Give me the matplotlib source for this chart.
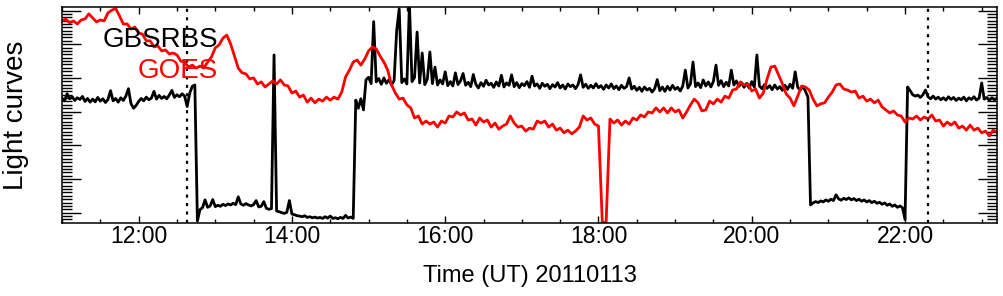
# Light curves of GBSRBS (2-min cadence) and GOES (3-min cadence), 2011-01-13
import numpy as np
import pandas as pd
import matplotlib
matplotlib.use('Agg')
import matplotlib.pyplot as plt
import matplotlib.dates as mdates
from matplotlib.ticker import MultipleLocator

plt.rcParams['font.family'] = ['Liberation Sans', 'DejaVu Sans']

# GBSRBS counts (arbitrary units), one value every 2 minutes from 11:00
gbsrbs = [
    34.0, 33.2, 35.3, 33.8, 34.4, 33.3, 34.1, 33.6, 34.5, 33.0,
    33.9, 32.8, 33.7, 32.9, 34.2, 33.1, 33.8, 32.7, 33.6, 36.2,
    33.2, 33.9, 32.8, 34.1, 33.3, 34.6, 36.8, 32.4, 31.0, 31.8,
    33.0, 33.9, 33.2, 34.3, 33.5, 34.0, 36.0, 33.7, 34.8, 33.9,
    34.5, 33.8, 34.9, 36.3, 34.2, 35.0, 34.4, 35.3, 34.6, 31.5,
    35.5, 37.5, 37.9, -2.5, 0.9, 1.5, 3.8, 1.6, 2.0, 3.9,
    1.8, 2.2, 1.9, 2.5, 2.1, 2.6, 2.3, 2.8, 2.4, 4.7,
    2.6, 2.2, 2.7, 2.3, 2.0, 2.4, 3.6, 1.7, 1.9, 3.3,
    1.3, 1.0, 1.2, 46.8, 0.5, 0.3, 0.0, -0.2, 0.1, 3.6,
    -0.4, -0.6, -0.9, -1.0, -1.2, -0.9, -1.4, -1.2, -1.5, -1.3,
    -1.6, -1.4, -1.7, -1.2, -1.6, -1.0, -1.7, -1.5, -1.8, -1.4,
    -1.7, -0.8, -1.6, -1.3, -1.7, 33.4, 31.0, 33.8, 30.5, 39.4,
    40.2, 38.3, 56.7, 38.8, 39.8, 38.1, 40.0, 38.4, 39.5, 37.9,
    39.2, 54.0, 60.5, 38.6, 39.7, 38.2, 62.0, 38.9, 40.1, 53.6,
    38.5, 47.4, 38.0, 39.6, 47.7, 38.3, 43.2, 37.9, 39.4, 38.2,
    41.8, 37.7, 38.9, 37.6, 41.5, 38.0, 39.1, 41.3, 37.8, 38.7,
    37.4, 41.0, 38.1, 37.0, 38.6, 37.5, 39.3, 37.9, 38.4, 37.2,
    38.8, 37.6, 40.8, 37.3, 38.5, 37.8, 40.9, 37.4, 38.6, 37.1,
    38.3, 37.7, 38.9, 37.2, 40.5, 37.6, 38.2, 36.9, 38.4, 37.5,
    38.1, 36.8, 38.0, 37.3, 38.6, 37.0, 37.9, 36.7, 38.2, 37.4,
    37.9, 36.8, 38.0, 40.9, 37.2, 38.1, 36.9, 37.8, 37.0, 38.3,
    37.1, 37.7, 36.6, 37.9, 37.0, 38.2, 36.8, 37.6, 36.5, 37.8,
    36.9, 37.4, 40.0, 36.7, 37.5, 36.3, 37.2, 36.0, 37.3, 36.4,
    36.9, 35.8, 36.8, 39.5, 36.2, 37.3, 36.0, 37.5, 36.4, 37.8,
    36.6, 37.2, 36.1, 37.6, 42.3, 37.0, 38.2, 44.7, 37.4, 38.5,
    37.1, 39.4, 37.6, 38.8, 37.3, 39.0, 43.8, 37.8, 39.2, 37.4,
    38.7, 37.6, 42.3, 37.9, 39.1, 37.5, 38.6, 37.2, 38.4, 37.0,
    38.9, 37.3, 46.8, 37.6, 36.8, 38.0, 36.9, 37.7, 36.5, 37.9,
    36.7, 37.4, 36.3, 37.8, 36.6, 38.1, 36.9, 41.8, 37.2, 36.4,
    37.5, 36.1, 34.3, 2.3, 2.9, 3.3, 3.0, 3.5, 3.2, 3.8,
    3.4, 4.0, 3.6, 5.3, 4.1, 3.7, 4.3, 3.9, 4.4, 3.8,
    4.2, 3.6, 4.0, 3.4, 3.8, 3.2, 3.6, 3.0, 3.4, 2.8,
    3.1, 2.5, 2.9, 2.2, 2.6, 1.9, 2.3, 1.6, 2.0, 1.5,
    -2.0, 37.3, 36.2, 35.0, 34.6, 34.9, 34.2, 35.0, 36.4, 34.4,
    33.8, 34.6, 33.7, 34.3, 33.5, 34.1, 33.4, 34.4, 33.6, 34.2,
    33.3, 34.0, 33.5, 34.3, 33.2, 34.1, 33.6, 34.4, 33.4, 34.0,
    38.5, 33.7, 34.2, 33.3, 34.1, 33.5, 34.0,
]

# GOES flux (arbitrary units), one value every 3 minutes from 11:00
goes = [
    56.9, 57.5, 56.3, 56.9, 56.0, 57.2, 57.5, 59.0, 57.8, 56.6,
    57.2, 56.9, 59.3, 60.1, 60.6, 58.4, 56.0, 56.0, 54.5, 55.1,
    53.3, 53.0, 51.0, 51.0, 49.2, 49.5, 48.0, 48.3, 47.1, 47.4,
    46.8, 45.0, 44.7, 43.2, 43.8, 42.9, 43.5, 42.9, 44.7, 46.2,
    48.9, 49.8, 51.8, 52.7, 50.1, 46.5, 42.9, 41.5, 41.2, 39.7,
    40.0, 38.2, 38.8, 37.3, 38.2, 39.1, 38.2, 39.4, 37.9, 37.6,
    35.5, 36.1, 34.3, 34.9, 32.8, 34.0, 32.6, 33.7, 33.1, 34.3,
    33.4, 34.3, 33.7, 35.8, 40.3, 42.3, 44.7, 45.3, 43.8, 45.6,
    48.0, 49.2, 48.6, 46.5, 44.7, 42.3, 37.9, 35.5, 33.7, 34.0,
    32.0, 31.1, 28.1, 28.7, 26.3, 27.2, 26.3, 26.9, 25.4, 27.2,
    26.6, 28.7, 28.4, 29.9, 29.0, 29.6, 27.5, 27.8, 26.0, 28.1,
    26.9, 27.5, 25.4, 26.6, 24.8, 25.7, 26.3, 28.7, 26.6, 25.4,
    25.7, 24.2, 25.1, 24.8, 27.2, 26.6, 27.2, 25.4, 26.3, 24.5,
    25.1, 23.7, 24.5, 23.4, 24.2, 25.4, 28.7, 27.5, 28.1, 26.3,
    25.7, -2.9, -2.9, 27.8, 26.6, 27.5, 26.0, 27.2, 26.3, 28.1,
    27.5, 29.0, 28.4, 29.9, 29.6, 31.1, 29.9, 31.1, 29.6, 31.1,
    29.9, 30.5, 28.1, 29.9, 32.0, 33.7, 32.6, 30.2, 30.5, 33.1,
    32.3, 33.7, 32.8, 34.6, 34.0, 36.4, 36.7, 38.8, 37.9, 38.2,
    36.1, 36.7, 34.0, 35.5, 39.7, 43.2, 43.5, 40.9, 38.2, 35.2,
    34.0, 31.7, 34.6, 37.6, 37.3, 36.4, 33.7, 31.7, 32.3, 32.6,
    34.3, 35.8, 37.9, 38.2, 36.7, 36.4, 35.8, 36.1, 34.0, 34.6,
    33.1, 33.7, 32.6, 33.4, 31.4, 30.5, 29.6, 30.2, 29.0, 28.7,
    26.9, 28.1, 27.8, 28.7, 27.5, 28.4, 27.8, 29.0, 27.2, 27.5,
    25.7, 26.9, 26.0, 26.9, 25.1, 25.7, 24.5, 26.0, 24.5, 25.1,
    23.7, 24.2, 22.8, 24.5, 23.9,
]

t_gbsrbs = pd.date_range('2011-01-13 11:00', periods=len(gbsrbs), freq='2min')
t_goes = pd.date_range('2011-01-13 11:00', periods=len(goes), freq='3min')

# dotted markers
marks = pd.to_datetime(['2011-01-13 12:37:36', '2011-01-13 22:17:42'])

fig = plt.figure(figsize=(10.04, 2.96), dpi=100)
ax = fig.add_axes([62 / 1004, 73.3 / 296, 935 / 1004, 215.4 / 296])

ax.plot(t_gbsrbs, gbsrbs, color='black', lw=2.0)
ax.plot(t_goes, goes, color='red', lw=2.0)
for m in marks:
    ax.axvline(m, color='black', lw=1.6, linestyle=(0, (1.4, 2.4)))

ax.set_xlim(pd.Timestamp('2011-01-13 11:00'), pd.Timestamp('2011-01-13 23:12'))
ax.set_ylim(-2.97, 60.95)

ax.text(0.1668, 0.817, 'GBSRBS', transform=ax.transAxes, ha='right',
        va='baseline', fontsize=20, color='black')
ax.text(0.1668, 0.672, 'GOES', transform=ax.transAxes, ha='right',
        va='baseline', fontsize=20, color='red')

# axis ticks
ax.xaxis.set_major_locator(mdates.HourLocator(byhour=range(12, 24, 2)))
ax.xaxis.set_minor_locator(mdates.MinuteLocator(byminute=[0, 30]))
ax.xaxis.set_major_formatter(mdates.DateFormatter('%H:%M'))
ax.yaxis.set_major_locator(MultipleLocator(10))
ax.yaxis.set_minor_locator(MultipleLocator(1))
ax.set_yticklabels([])

ax.tick_params(axis='x', which='both', direction='in', top=True, bottom=True,
               labelsize=16.5, pad=2, width=1.0)
ax.tick_params(axis='x', which='major', length=5)
ax.tick_params(axis='x', which='minor', length=3)
ax.tick_params(axis='y', which='both', direction='in', left=True, right=True,
               labelleft=False, width=1.0)
ax.tick_params(axis='y', which='major', length=14)
ax.tick_params(axis='y', which='minor', length=7.5)
for s in ax.spines.values():
    s.set_linewidth(1.1)

ax.set_xlabel('Time (UT) 20110113', fontsize=17, labelpad=12)
ax.set_ylabel('Light curves', fontsize=20, labelpad=24)

fig.savefig('out.png', dpi=100)
